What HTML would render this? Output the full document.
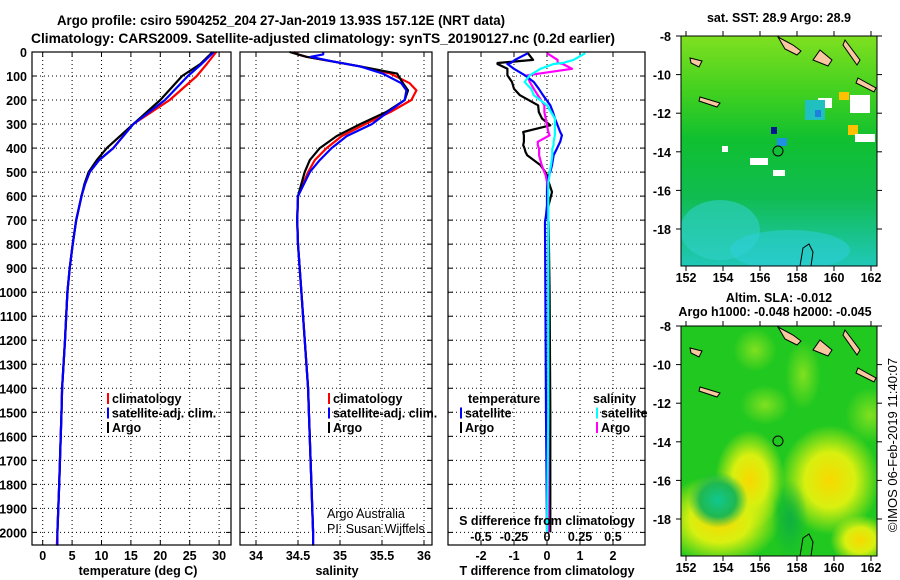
<!DOCTYPE html>
<html><head><meta charset="utf-8"><style>
body{margin:0;background:#fff;}
svg{display:block;font-family:"Liberation Sans",sans-serif;}
.b{font-weight:bold;font-size:14px;}
.t{font-weight:bold;font-size:12.5px;}
.n{font-weight:normal;font-size:12.5px;}
</style></head><body>
<svg id="c" width="900" height="580" viewBox="0 0 900 580">
<defs>
<linearGradient id="sstg" x1="0" y1="0" x2="0" y2="1">
<stop offset="0" stop-color="#7fe020"/><stop offset="0.25" stop-color="#40d020"/><stop offset="0.45" stop-color="#10c030"/><stop offset="0.7" stop-color="#10bc50"/><stop offset="1" stop-color="#20c8b8"/></linearGradient>
<radialGradient id="yb"><stop offset="0" stop-color="#f8d800"/><stop offset="0.5" stop-color="#d8f010"/><stop offset="1" stop-color="#d8f010" stop-opacity="0"/></radialGradient>
<radialGradient id="cb"><stop offset="0" stop-color="#10c890"/><stop offset="0.6" stop-color="#20b850"/><stop offset="1" stop-color="#20b850" stop-opacity="0"/></radialGradient>
<radialGradient id="gb"><stop offset="0" stop-color="#10b040"/><stop offset="1" stop-color="#10b040" stop-opacity="0"/></radialGradient>
<radialGradient id="lb"><stop offset="0" stop-color="#80e020"/><stop offset="1" stop-color="#80e020" stop-opacity="0"/></radialGradient>
<clipPath id="m1c"><rect x="681" y="36" width="196" height="230"/></clipPath>
<clipPath id="m2c"><rect x="681" y="326" width="196" height="230"/></clipPath>
</defs>
<g id="titles">
<text class="b" x="57" y="25" textLength="448" lengthAdjust="spacingAndGlyphs">Argo profile: csiro 5904252_204 27-Jan-2019 13.93S 157.12E (NRT data)</text>
<text class="b" x="31" y="43" textLength="584" lengthAdjust="spacingAndGlyphs">Climatology: CARS2009. Satellite-adjusted climatology: synTS_20190127.nc (0.2d earlier)</text>
</g>
<g id="plots"></g>
<g id="maps">
<text class="t" x="779" y="22" text-anchor="middle">sat. SST: 28.9 Argo: 28.9</text>
<g clip-path="url(#m1c)">
<rect x="681" y="36" width="196" height="230" fill="url(#sstg)"/>
<ellipse cx="720" cy="230" rx="40" ry="30" fill="#30d0c8" opacity="0.6"/>
<ellipse cx="790" cy="250" rx="60" ry="20" fill="#30d0e0" opacity="0.5"/>
<rect x="848" y="125" width="10" height="10" fill="#ffc000"/><rect x="839" y="92" width="10" height="8" fill="#ffc000"/>
<rect x="818" y="98" width="14" height="10" fill="#fff"/><rect x="850" y="95" width="20" height="18" fill="#fff"/>
<rect x="750" y="158" width="18" height="7" fill="#fff"/><rect x="773" y="170" width="12" height="6" fill="#fff"/>
<rect x="805" y="100" width="20" height="20" fill="#20c0c0"/><rect x="815" y="110" width="6" height="7" fill="#2080e0"/>
<rect x="771" y="127" width="6" height="7" fill="#001890"/><rect x="777" y="138" width="10" height="8" fill="#2090e0"/>
<rect x="722" y="146" width="6" height="6" fill="#fff"/><rect x="855" y="134" width="20" height="8" fill="#fff"/>
<path d="M778 37 l15 8 l8 6 l-4 4 l-12 -6 z M820 50 l12 10 l-4 6 l-15 -6 z M845 40 l15 20 l-3 5 l-14 -20 z M858 78 l18 10 l-2 4 l-18 -9 z M690 58 l12 3 l-3 6 l-8 -4 z M700 97 l20 6 l-3 4 l-18 -6 z" fill="#f8c8a0" stroke="#000"/>
<circle cx="778" cy="151" r="5" fill="none" stroke="#000"/>
<path d="M800 266 l3 -18 l6 -4 l4 8 l-2 14" fill="none" stroke="#000"/>
</g>
<rect x="681" y="36" width="196" height="230" fill="none" stroke="#000"/>
<text class="t" x="779" y="302" text-anchor="middle">Altim. SLA: -0.012</text>
<text class="t" x="775" y="316" text-anchor="middle">Argo h1000: -0.048 h2000: -0.045</text>
<g clip-path="url(#m2c)">
<rect x="681" y="326" width="196" height="230" fill="#20c820"/>
<ellipse cx="720" cy="520" rx="60" ry="45" fill="url(#yb)"/>
<ellipse cx="750" cy="480" rx="35" ry="50" fill="url(#yb)"/>
<ellipse cx="830" cy="480" rx="50" ry="55" fill="url(#yb)"/>
<ellipse cx="860" cy="540" rx="30" ry="25" fill="url(#yb)"/>
<ellipse cx="718" cy="500" rx="30" ry="28" fill="url(#cb)"/>
<ellipse cx="790" cy="520" rx="18" ry="40" fill="url(#gb)"/>
<ellipse cx="755" cy="350" rx="22" ry="22" fill="url(#lb)"/>
<ellipse cx="803" cy="375" rx="18" ry="35" fill="url(#lb)"/>
<ellipse cx="765" cy="405" rx="25" ry="20" fill="url(#lb)"/>
<ellipse cx="870" cy="415" rx="25" ry="28" fill="url(#lb)"/>
<path d="M778 327 l15 8 l8 6 l-4 4 l-12 -6 z M820 340 l12 10 l-4 6 l-15 -6 z M845 330 l15 20 l-3 5 l-14 -20 z M858 368 l18 10 l-2 4 l-18 -9 z M690 348 l12 3 l-3 6 l-8 -4 z M700 387 l20 6 l-3 4 l-18 -6 z" fill="#f8c8a0" stroke="#000"/>
<circle cx="778" cy="441" r="5" fill="none" stroke="#000"/>
<path d="M800 556 l3 -18 l6 -4 l4 8 l-2 14" fill="none" stroke="#000"/>
</g>
<rect x="681" y="326" width="196" height="230" fill="none" stroke="#000"/>
<text x="897" y="445" font-size="13" text-anchor="middle" transform="rotate(-90 897 445)">©IMOS 06-Feb-2019 11:40:07</text>
</g>
</svg>
<script>
// ---- data ----
const depthT = [0,50,100,200,300,400,450,500,550,600,700,800,900,1000,1200,1400,1500,1800,2000,2055];
const tempClim = [29.5,27.9,26.2,21.6,15.4,12.0,9.6,8.0,7.2,6.6,5.7,5.1,4.6,4.2,3.8,3.3,3.2,2.8,2.5,2.4];
const tempSat  = [29.1,27.0,24.7,20.8,15.4,12.0,9.6,8.0,7.2,6.6,5.7,5.1,4.6,4.2,3.8,3.3,3.2,2.8,2.5,2.5];
const tempArgo = [28.9,26.8,23.7,20.0,15.4,10.9,9.2,7.8,7.1,6.6,5.7,5.1,4.6,4.2,3.8,3.3,3.2,2.8,2.5];
const depthS = [0,10,20,40,60,90,130,160,200,250,300,350,400,450,500,600,700,800,1000,1400,1500,2000,2055];
const salClim = [34.45,34.5,34.6,34.92,35.24,35.6,35.83,35.91,35.85,35.6,35.3,35.02,34.84,34.7,34.62,34.5,34.49,34.5,34.54,34.62,34.63,34.68,34.68];
const salSat  = [34.8,34.8,34.65,34.92,35.24,35.51,35.73,35.79,35.77,35.57,35.38,35.08,34.9,34.76,34.64,34.5,34.49,34.5,34.54,34.62,34.63,34.68,34.68];
const salArgo = [34.4,34.5,34.6,34.92,35.24,35.68,35.75,35.81,35.77,35.55,35.24,34.96,34.76,34.64,34.58,34.5,34.49,34.5,34.54,34.62,34.63,34.68];
const depthD = [5,33,46,50,70,97,125,153,180,222,250,277,305,333,347,374,388,402,416,430,471,500,513,541,583,638,680,708,1000,1500,2000];
const dTArgo = [-0.58,-0.42,-1.5,-1.5,-1.2,-1.2,-1.06,-1.0,-0.82,-0.27,-0.25,-0.15,0.1,-0.72,-0.7,-0.7,-0.72,-0.68,-0.65,-0.6,-0.2,-0.05,0,0.05,0.15,0.05,0,0.05,0.08,0.1,0.1];
const dTSat  = [-0.58,-0.97,-1.1,-1.2,-1.0,-0.67,-0.4,-0.25,-0.12,0.1,0.18,0.24,0.32,0.4,0.45,0.4,0.35,0.3,0.25,0.2,0.15,0.1,0.05,0.03,0.0,0.0,-0.03,-0.06,-0.05,-0.03,0.0];
const dSArgo = [0,0.08,0.08,0.12,0.19,-0.15,-0.13,-0.1,-0.07,-0.02,-0.02,-0.01,0,0.01,0.02,-0.07,-0.07,-0.06,-0.06,-0.06,-0.04,-0.02,-0.01,0,0,0.01,0.01,0.01,0.01,0.01,0.01];
const dSSat  = [0.29,0.2,0.12,0.05,-0.05,-0.13,-0.17,-0.12,-0.1,0,0.03,0.06,0.06,0.06,0.06,0.05,0.05,0.04,0.04,0.04,0.03,0.02,0.02,0.01,0.01,0.01,0.01,0.01,0.01,0.01,0.0];
const depthTicks = [0,100,200,300,400,500,600,700,800,900,1000,1100,1200,1300,1400,1500,1600,1700,1800,1900,2000];
const tempTicks = [0,5,10,15,20,25,30];
const salTicks = [34,34.5,35,35.5,36];
const dTTicks = [-2,-1,0,1,2];
const dSTickLabels = ["-0.5","-0.25","0","0.25","0.5"];
const dSTicks = [-0.5,-0.25,0,0.25,0.5];
const latTicks = [-8,-10,-12,-14,-16,-18];
const lonTicks = [152,154,156,158,160,162];
// ---- axes ----
const yD = d => 52 + d*0.2402;
const xT = t => 42.7 + t*5.88;
const xS = s => 256 + (s-34)*84;
const xdT = v => 547 + v*33;
const xdS = v => 547 + v*132;
const NS='http://www.w3.org/2000/svg';
const root=document.getElementById('plots');
function mk(tag,attrs,parent){const e=document.createElementNS(NS,tag);for(const k in attrs)e.setAttribute(k,attrs[k]);(parent||root).appendChild(e);return e;}
function txt(s,x,y,anchor,cls,parent){const e=mk('text',{x:x,y:y,'text-anchor':anchor,class:cls||'t'},parent);e.textContent=s;return e;}
const panels=[{x0:32,x1:231,name:'temperature-panel'},{x0:240,x1:432,name:'salinity-panel'},{x0:448,x1:645,name:'difference-panel'}];
const gp=[];
panels.forEach(p=>{
 const g=mk('g',{});
 
 
 gp.push(g);
 depthTicks.forEach(d=>{mk('line',{x1:p.x0,x2:p.x1,y1:yD(d),y2:yD(d),stroke:'#000','stroke-dasharray':'1,3'},g);
  mk('line',{x1:p.x0,x2:p.x0+5,y1:yD(d),y2:yD(d),stroke:'#000'},g);mk('line',{x1:p.x1-5,x2:p.x1,y1:yD(d),y2:yD(d),stroke:'#000'},g);});
});
function vgrid(g,ticks,fx){ticks.forEach(t=>{mk('line',{x1:fx(t),x2:fx(t),y1:52,y2:545,stroke:'#000','stroke-dasharray':'1,3'},g);mk('line',{x1:fx(t),x2:fx(t),y1:540,y2:545,stroke:'#000'},g);mk('line',{x1:fx(t),x2:fx(t),y1:52,y2:57,stroke:'#000'},g);});}
vgrid(gp[0],tempTicks,xT);vgrid(gp[1],salTicks,xS);vgrid(gp[2],dTTicks,xdT);
function series(g,depths,vals,fx,color,name,w){
 const pts=vals.map((v,i)=>fx(v).toFixed(1)+','+yD(depths[i]).toFixed(1)).join(' ');
 const e=mk('polyline',{points:pts,fill:'none',stroke:color,'stroke-width':w||2.2,'stroke-linejoin':'round'},g);
 
 
}
series(gp[0],depthT,tempClim,xT,'#f00','temp-climatology-line');
series(gp[0],depthT,tempArgo,xT,'#000','temp-argo-line');
series(gp[0],depthT,tempSat,xT,'#00f','temp-satellite-line');
series(gp[1],depthS,salClim,xS,'#f00','salinity-climatology-line');
series(gp[1],depthS,salArgo,xS,'#000','salinity-argo-line');
series(gp[1],depthS,salSat,xS,'#00f','salinity-satellite-line');
series(gp[2],depthD,dTArgo,xdT,'#000','t-diff-argo-line');
series(gp[2],depthD,dSArgo,xdS,'#f0f','s-diff-argo-line');
series(gp[2],depthD,dTSat,xdT,'#00f','t-diff-satellite-line');
series(gp[2],depthD,dSSat,xdS,'#0ff','s-diff-satellite-line');
panels.forEach(p=>{mk('rect',{x:p.x0,y:52,width:p.x1-p.x0,height:493,fill:'none',stroke:'#000','stroke-width':1.2});});
// labels
depthTicks.forEach(d=>{const e=txt(String(d),27,yD(d)+5,'end');});
tempTicks.forEach(t=>{const e=txt(String(t),xT(t),560,'middle');});
salTicks.forEach(t=>{const e=txt(String(t),xS(t),560,'middle');});
dTTicks.forEach(t=>{const e=txt(String(t),xdT(t),560,'middle');});
dSTicks.forEach((t,i)=>{const e=txt(dSTickLabels[i],xdS(t),541,'middle');});
let e;
e=txt('temperature (deg C)',138,575,'middle');
e=txt('salinity',337,575,'middle');
e=txt('T difference from climatology',547,575,'middle');
e=txt('S difference from climatology',547,525,'middle');
e=txt('Argo Australia',327,518,'start','n');
e=txt('PI: Susan Wijffels',327,533,'start','n');
function legend(x,y,color,label){mk('line',{x1:x,x2:x,y1:y-10,y2:y+1,stroke:color,'stroke-width':2});const t=txt(label,x+4,y,'start');}
[['#f00','climatology'],['#00f','satellite-adj. clim.'],['#000','Argo']].forEach((l,i)=>{legend(108,403+i*14.5,l[0],l[1]);legend(329,403+i*14.5,l[0],l[1]);});
e=txt('temperature',468,403,'start');
e=txt('salinity',593,403,'start');
legend(461,417.5,'#00f','satellite');legend(461,432,'#000','Argo');
legend(597,417.5,'#0ff','satellite');legend(597,432,'#f0f','Argo');
// map ticks
const maps=document.getElementById('maps');
[[36,266],[326,556]].forEach((m,k)=>{
 latTicks.forEach(l=>{const y=m[0]+(-8-l)*19.3;mk('line',{x1:676,x2:681,y1:y,y2:y,stroke:'#000'},maps);mk('line',{x1:877,x2:882,y1:y,y2:y,stroke:'#000'},maps);const t=txt(String(l),671,y+5,'end','t',maps);});
 lonTicks.forEach(l=>{const x=686+(l-152)*18.5;mk('line',{x1:x,x2:x,y1:m[1],y2:m[1]+5,stroke:'#000'},maps);mk('line',{x1:x,x2:x,y1:m[0]-5,y2:m[0],stroke:'#000'},maps);const t=txt(String(l),x,m[1]+16,'middle','t',maps);});
});
</script>
</body></html>
